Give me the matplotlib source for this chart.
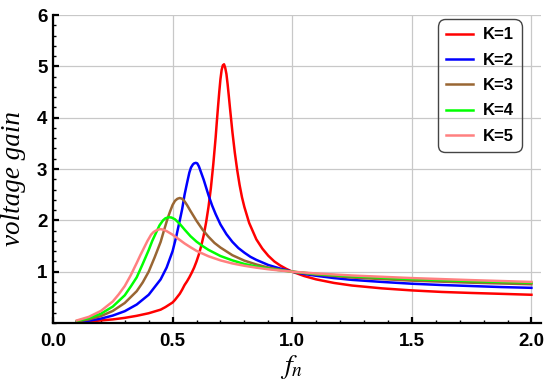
import matplotlib
matplotlib.use("Agg")
import matplotlib.pyplot as plt
from matplotlib.ticker import MultipleLocator

# gain curves, one list per K
fn_k1 = [0.1, 0.15, 0.2, 0.25, 0.3, 0.35, 0.4, 0.45, 0.47, 0.5, 0.51, 0.52, 0.53, 0.54, 0.55, 0.56,
         0.57, 0.58, 0.59, 0.6, 0.61, 0.62, 0.63, 0.64, 0.65, 0.66, 0.67, 0.68, 0.685, 0.69, 0.695,
         0.7, 0.705, 0.71, 0.715, 0.72, 0.725, 0.73, 0.735, 0.74, 0.75, 0.76, 0.77, 0.78, 0.79, 0.8,
         0.82, 0.85, 0.875, 0.9, 0.925, 0.95, 0.975, 1.0, 1.05, 1.1, 1.175, 1.25, 1.375, 1.5, 1.625,
         1.75, 1.875, 2.0]
gain_k1 = [0.02, 0.03, 0.05, 0.07, 0.10, 0.14, 0.19, 0.26, 0.31, 0.40, 0.45, 0.51, 0.57, 0.65, 0.74, 0.81,
           0.89, 0.98, 1.08, 1.20, 1.34, 1.51, 1.71, 1.96, 2.26, 2.63, 3.09, 3.62, 3.93, 4.22, 4.50,
           4.75, 4.93, 5.02, 5.04, 4.97, 4.85, 4.65, 4.42, 4.18, 3.72, 3.32, 2.98, 2.69, 2.45, 2.26,
           1.95, 1.63, 1.45, 1.31, 1.20, 1.12, 1.055, 1.00, 0.915, 0.85, 0.78, 0.73, 0.675, 0.635, 0.605,
           0.585, 0.568, 0.55]

fn_k2 = [0.1, 0.15, 0.2, 0.25, 0.3, 0.35, 0.4, 0.45, 0.475, 0.5, 0.515, 0.53, 0.54, 0.55, 0.56, 0.57,
         0.577, 0.585, 0.59, 0.597, 0.603, 0.61, 0.62, 0.63, 0.64, 0.65, 0.665, 0.68, 0.7, 0.725,
         0.75, 0.775, 0.8, 0.825, 0.85, 0.875, 0.9, 0.95, 1.0, 1.05, 1.1, 1.175, 1.25, 1.375, 1.5,
         1.625, 1.75, 1.875, 2.0]
gain_k2 = [0.02, 0.045, 0.085, 0.145, 0.23, 0.36, 0.55, 0.85, 1.08, 1.40, 1.68, 2.00, 2.22, 2.50, 2.72, 2.93,
           3.03, 3.09, 3.11, 3.12, 3.11, 3.05, 2.92, 2.79, 2.64, 2.49, 2.29, 2.12, 1.92, 1.73,
           1.58, 1.46, 1.37, 1.29, 1.23, 1.18, 1.13, 1.06, 1.00, 0.955, 0.92, 0.875, 0.84, 0.80, 0.765,
           0.74, 0.72, 0.70, 0.685]

fn_k3 = [0.1, 0.15, 0.2, 0.25, 0.3, 0.35, 0.375, 0.4, 0.425, 0.45, 0.465, 0.48, 0.49, 0.5, 0.51, 0.52,
         0.53, 0.54, 0.55, 0.56, 0.575, 0.6, 0.625, 0.65, 0.675, 0.7, 0.75, 0.8, 0.85, 0.9, 0.95,
         1.0, 1.1, 1.25, 1.5, 1.75, 2.0]
gain_k3 = [0.03, 0.07, 0.135, 0.235, 0.39, 0.62, 0.79, 1.00, 1.28, 1.58, 1.82, 2.05, 2.18, 2.30, 2.38, 2.42,
           2.435, 2.42, 2.37, 2.30, 2.18, 1.99, 1.82, 1.68, 1.56, 1.47, 1.32, 1.215, 1.14, 1.08, 1.037,
           1.00, 0.945, 0.885, 0.825, 0.785, 0.755]

fn_k4 = [0.1, 0.15, 0.2, 0.25, 0.3, 0.325, 0.35, 0.375, 0.4, 0.415, 0.43, 0.445, 0.46, 0.47, 0.483, 0.495,
         0.51, 0.53, 0.55, 0.575, 0.6, 0.625, 0.65, 0.7, 0.75, 0.8, 0.85, 0.9, 0.95, 1.0, 1.1,
         1.25, 1.5, 1.75, 2.0]
gain_k4 = [0.04, 0.095, 0.18, 0.32, 0.54, 0.71, 0.89, 1.15, 1.42, 1.60, 1.75, 1.90, 2.00, 2.04, 2.06, 2.055,
           2.02, 1.93, 1.82, 1.69, 1.585, 1.50, 1.425, 1.305, 1.22, 1.15, 1.10, 1.06, 1.027, 1.00, 0.955,
           0.91, 0.855, 0.815, 0.785]

fn_k5 = [0.1, 0.15, 0.2, 0.25, 0.275, 0.3, 0.325, 0.35, 0.365, 0.38, 0.395, 0.41, 0.42, 0.43, 0.447, 0.46,
         0.475, 0.5, 0.525, 0.55, 0.575, 0.6, 0.65, 0.7, 0.75, 0.8, 0.85, 0.9, 0.95, 1.0, 1.1,
         1.25, 1.5, 1.75, 2.0]
gain_k5 = [0.05, 0.12, 0.235, 0.42, 0.56, 0.72, 0.93, 1.17, 1.32, 1.46, 1.60, 1.72, 1.77, 1.80, 1.83, 1.82,
           1.79, 1.72, 1.635, 1.55, 1.475, 1.405, 1.30, 1.22, 1.16, 1.115, 1.078, 1.047, 1.022, 1.00, 0.965,
           0.925, 0.875, 0.835, 0.80]

labels = ["K=1", "K=2", "K=3", "K=4", "K=5"]
colors = ["#ff0000", "#0000ff", "#996633", "#00ff00", "#ff8080"]
x_ticks = [0.0, 0.5, 1.0, 1.5, 2.0]
x_ticklabels = ["0.0", "0.5", "1.0", "1.5", "2.0"]
y_ticks = [1, 2, 3, 4, 5, 6]

plt.rcParams['font.family'] = ['Liberation Sans', 'DejaVu Sans']
plt.rcParams['mathtext.fontset'] = 'stix'

fig = plt.figure(figsize=(5.5, 3.89), dpi=100)
ax = fig.add_axes([53/550, 1 - 323/389, 488/550, 308/389])

curves = [(fn_k1, gain_k1), (fn_k2, gain_k2), (fn_k3, gain_k3), (fn_k4, gain_k4), (fn_k5, gain_k5)]
for (xs, ys), lab, col in zip(curves, labels, colors):
    ax.plot(xs, ys, color=col, lw=1.8, label=lab, solid_joinstyle='round')

ax.set_xlim(0, 2.04)
ax.set_ylim(0, 6)
ax.set_xticks(x_ticks)
ax.set_xticklabels(x_ticklabels)
ax.set_yticks(y_ticks)
ax.xaxis.set_minor_locator(MultipleLocator(0.1))
ax.yaxis.set_minor_locator(MultipleLocator(0.2))
ax.grid(True, which='major', color='#c8c8c8', lw=0.9)
ax.set_axisbelow(True)

for s in ['top', 'right']:
    ax.spines[s].set_visible(False)
for s in ['left', 'bottom']:
    ax.spines[s].set_linewidth(1.6)
    ax.spines[s].set_color('black')

ax.tick_params(which='major', direction='in', length=4, width=1.6, labelsize=13.5)
ax.tick_params(which='minor', direction='in', length=2.5, width=1.0)
ax.tick_params(axis='x', pad=7)
ax.tick_params(axis='y', pad=4)
for t in ax.get_xticklabels() + ax.get_yticklabels():
    t.set_fontweight('bold')

fig.text(14/550, 1 - 178/389, "voltage gain", rotation=90, ha='center', va='center',
         fontsize=19.5, style='italic', family='Liberation Serif')
fig.text(292/550, 1 - 367/389, r"$f_n$", ha='center', va='center', fontsize=20)

leg = ax.legend(loc='upper right', bbox_to_anchor=(0.961, 0.987), borderaxespad=0,
                fancybox=True, framealpha=1, edgecolor='#444444',
                prop={'weight': 'bold', 'size': 12}, handlelength=1.6,
                labelspacing=0.62, borderpad=0.5, handletextpad=0.6)
leg.get_frame().set_facecolor('none')
leg.get_frame().set_linewidth(1.0)
leg.get_frame().set_boxstyle('round,pad=0,rounding_size=0.45')

fig.savefig("out.png", dpi=100)
